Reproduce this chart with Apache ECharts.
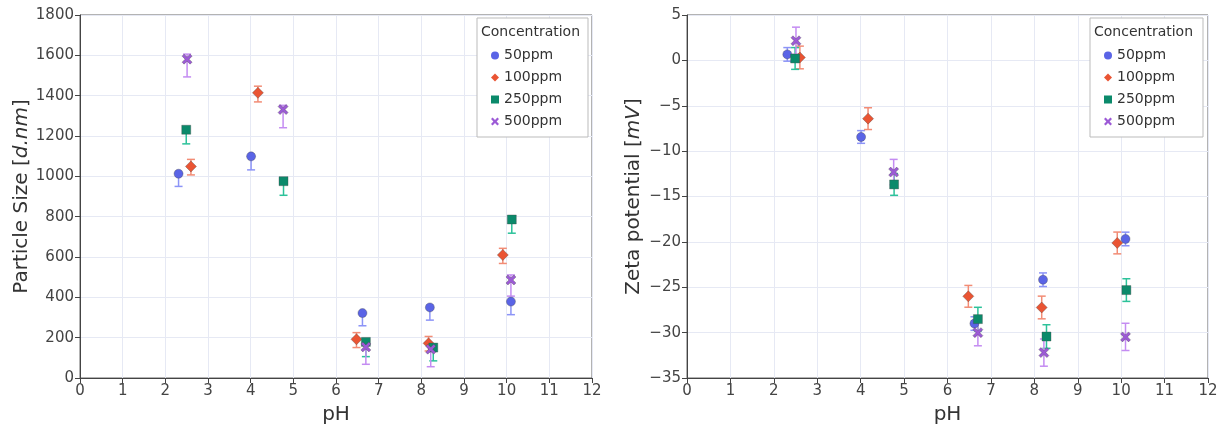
<!DOCTYPE html>
<html>
<head>
<meta charset="utf-8">
<script src="https://cdn.jsdelivr.net/npm/echarts@6/dist/echarts.min.js"></script>
<style>html,body{margin:0;padding:0;background:#fff}#c{width:1222px;height:435px}</style>
</head>
<body>
<div id="c"></div>
<script>
// ---- data ----
const concentrations = ['50ppm', '100ppm', '250ppm', '500ppm'];
const xTicks = [0,1,2,3,4,5,6,7,8,9,10,11,12];

const pH50  = [2.31, 4.01, 6.62, 8.20, 10.10];
const pH100 = [2.60, 4.17, 6.48, 8.17, 9.91];
const pH250 = [2.49, 4.77, 6.70, 8.28, 10.12];
const pH500 = [2.51, 4.76, 6.70, 8.22, 10.10];

// Particle size [d.nm] with lower / upper error
const size50  = [1013, 1099, 322, 350, 379];
const size50Lo = [63, 67, 63, 63, 65];
const size50Hi = [0, 0, 0, 0, 0];
const size100 = [1049, 1414, 192, 172, 610];
const size100Lo = [42, 45, 41, 38, 42];
const size100Hi = [35, 33, 33, 34, 33];
const size250 = [1231, 976, 179, 151, 786];
const size250Lo = [70, 70, 73, 66, 68];
const size250Hi = [0, 0, 0, 0, 0];
const size500 = [1581, 1331, 154, 143, 486];
const size500Lo = [88, 90, 86, 87, 80];
const size500Hi = [25, 21, 20, 15, 25];

// Zeta potential [mV] with symmetric error
const zeta50  = [0.66, -8.44, -29.0, -24.17, -19.68];
const zeta50Err = [0.75, 0.7, 0.75, 0.75, 0.75];
const zeta100 = [0.32, -6.42, -26.0, -27.23, -20.12];
const zeta100Err = [1.25, 1.2, 1.2, 1.25, 1.2];
const zeta250 = [0.21, -13.67, -28.51, -30.43, -25.31];
const zeta250Err = [1.2, 1.2, 1.3, 1.3, 1.25];
const zeta500 = [2.16, -12.31, -30.0, -32.2, -30.47];
const zeta500Err = [1.5, 1.4, 1.45, 1.5, 1.5];

// ---- styles ----
const FONT = 'DejaVu Sans';
const markerColors = ['#5A64E6', '#EA5433', '#0B8A6B', '#9C5AD6'];
const errColors = ['#8C94F7', '#F28C75', '#2CC29A', '#C48CF2'];
const XPATH = 'path://M2,0 L5,3 L8,0 L10,2 L7,5 L10,8 L8,10 L5,7 L2,10 L0,8 L3,5 L0,2 Z';
const symbols = ['circle', 'diamond', 'rect', XPATH];
const symbolSizes = [9, 11, 9, 10];

const pHs = [pH50, pH100, pH250, pH500];
const sizes = [size50, size100, size250, size500];
const sizeLo = [size50Lo, size100Lo, size250Lo, size500Lo];
const sizeHi = [size50Hi, size100Hi, size250Hi, size500Hi];
const zetas = [zeta50, zeta100, zeta250, zeta500];
const zetaErr = [zeta50Err, zeta100Err, zeta250Err, zeta500Err];

function errRender(color) {
  return function (params, api) {
    const x = api.value(0), y = api.value(1), lo = api.value(2), hi = api.value(3);
    const pc = api.coord([x, y]), pl = api.coord([x, lo]), ph = api.coord([x, hi]);
    const w = 4;
    const st = { stroke: color, lineWidth: 1.5 };
    const ch = [{ type: 'line', shape: { x1: pc[0], y1: ph[1], x2: pc[0], y2: pl[1] }, style: st }];
    if (lo !== y) ch.push({ type: 'line', shape: { x1: pc[0] - w, y1: pl[1], x2: pc[0] + w, y2: pl[1] }, style: st });
    if (hi !== y) ch.push({ type: 'line', shape: { x1: pc[0] - w, y1: ph[1], x2: pc[0] + w, y2: ph[1] }, style: st });
    return { type: 'group', children: ch };
  };
}

const series = [];
for (let g = 0; g < 2; g++) {
  for (let k = 0; k < 4; k++) {
    const xs = pHs[k];
    const ys = g === 0 ? sizes[k] : zetas[k];
    const errData = xs.map((p, i) => {
      const lo = g === 0 ? ys[i] - sizeLo[k][i] : ys[i] - zetaErr[k][i];
      const hi = g === 0 ? ys[i] + sizeHi[k][i] : ys[i] + zetaErr[k][i];
      return [p, ys[i], lo, hi];
    });
    series.push({
      type: 'custom', name: concentrations[k] + ' err', xAxisIndex: g, yAxisIndex: g,
      renderItem: errRender(errColors[k]), data: errData,
      encode: { x: 0, y: [1, 2, 3] }, z: 1, silent: true
    });
  }
  for (let k = 0; k < 4; k++) {
    const xs = pHs[k];
    const ys = g === 0 ? sizes[k] : zetas[k];
    series.push({
      type: 'scatter', name: concentrations[k], xAxisIndex: g, yAxisIndex: g,
      symbol: symbols[k], symbolSize: symbolSizes[k],
      itemStyle: { color: markerColors[k], borderColor: 'rgba(70,70,70,0.45)', borderWidth: 0.8, opacity: 1 },
      data: xs.map((p, i) => [p, ys[i]]), z: 3
    });
  }
}

const axisCommon = {
  axisLine: { show: true, onZero: false, lineStyle: { color: '#444', width: 1 } },
  axisTick: { show: true, length: 5, lineStyle: { color: '#444' } },
  splitLine: { show: true, lineStyle: { color: '#E6E9F4', width: 1 } },
  axisLabel: { fontFamily: FONT, fontSize: 15, color: '#444', margin: 6 },
  nameTextStyle: { fontFamily: FONT, fontSize: 20, color: '#333' }
};

function xAxis(i) {
  return Object.assign({}, axisCommon, {
    type: 'value', gridIndex: i, min: 0, max: 12, interval: 1,
    name: 'pH', nameLocation: 'middle', nameGap: 27,
    axisLabel: Object.assign({}, axisCommon.axisLabel, { formatter: v => xTicks.includes(v) ? String(v) : '' })
  });
}

const legendCommon = {
  orient: 'vertical', itemWidth: 8, itemHeight: 8, itemGap: 7, itemStyle: { borderWidth: 0 },
  itemTextGap: 14, textStyle: { fontFamily: FONT, fontSize: 14, color: '#333', lineHeight: 15 },
  data: concentrations.slice(), selectedMode: false, z: 6, padding: 0
};

function legendBox(x, w) {
  return [
    { type: 'rect', z: 5, shape: { x: x, y: 18, width: w, height: 119 },
      style: { fill: '#fff', stroke: '#bbb', lineWidth: 1 } },
    { type: 'text', z: 7, x: x + 4, y: 25,
      style: { text: 'Concentration', fontFamily: FONT, fontSize: 14, fill: '#333' } }
  ];
}

const option = {
  backgroundColor: '#fff',
  animation: false,
  grid: [
    { left: 80, right: 630, top: 15, bottom: 57, show: true, borderColor: '#666', borderWidth: 1 },
    { left: 687, right: 14, top: 15, bottom: 57, show: true, borderColor: '#666', borderWidth: 1 }
  ],
  xAxis: [xAxis(0), xAxis(1)],
  yAxis: [
    Object.assign({}, axisCommon, {
      type: 'value', gridIndex: 0, min: 0, max: 1800, interval: 200,
      name: 'Particle Size [{i|d.nm}]', nameLocation: 'middle', nameGap: 45,
      axisLabel: Object.assign({}, axisCommon.axisLabel, { formatter: v => String(v) }),
      nameTextStyle: Object.assign({}, axisCommon.nameTextStyle, {
        rich: { i: { fontFamily: FONT, fontSize: 20, fontStyle: 'italic', color: '#333' } }
      })
    }),
    Object.assign({}, axisCommon, {
      type: 'value', gridIndex: 1, min: -35, max: 5, interval: 5,
      name: 'Zeta potential [{i|mV}]', nameLocation: 'middle', nameGap: 43,
      axisLabel: Object.assign({}, axisCommon.axisLabel, { formatter: v => v < 0 ? '\u2212' + Math.abs(v) : String(v) }),
      nameTextStyle: Object.assign({}, axisCommon.nameTextStyle, {
        rich: { i: { fontFamily: FONT, fontSize: 20, fontStyle: 'italic', color: '#333' } }
      })
    })
  ],
  legend: [
    Object.assign({}, legendCommon, { left: 491, top: 48 }),
    Object.assign({}, legendCommon, { left: 1104, top: 48 })
  ],
  graphic: legendBox(477, 111).concat(legendBox(1090, 113)),
  series: series
};

const chart = echarts.init(document.getElementById('c'), null, { renderer: 'canvas' });
chart.setOption(option);
</script>
</body>
</html>
